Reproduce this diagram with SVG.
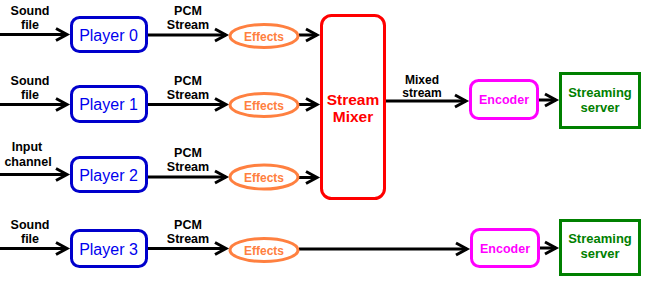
<svg xmlns="http://www.w3.org/2000/svg" width="647" height="285" viewBox="0 0 647 285">
<style>
.lbl{font-family:"Liberation Sans",Arial,sans-serif;font-weight:bold;font-size:12.5px;fill:#000;text-anchor:middle}
.player rect{fill:#fff;stroke:#0000CC;stroke-width:3}
.player text{font-family:"Liberation Sans",Arial,sans-serif;font-size:16px;fill:#0000EE;text-anchor:middle}
.fx ellipse{fill:#fff;stroke:#FF8040;stroke-width:3}
.fx text{font-family:"Liberation Sans",Arial,sans-serif;font-weight:bold;font-size:12px;fill:#FF8040;text-anchor:middle}
.mixer rect{fill:#fff;stroke:#FF0000;stroke-width:3}
.mixer text{font-family:"Liberation Sans",Arial,sans-serif;font-weight:bold;font-size:15.5px;fill:#FF0000;text-anchor:middle}
.enc rect{fill:#fff;stroke:#FF00FF;stroke-width:3}
.enc text{font-family:"Liberation Sans",Arial,sans-serif;font-weight:bold;font-size:12.5px;fill:#FF00FF;text-anchor:middle}
.srv rect{fill:#fff;stroke:#008000;stroke-width:3}
.srv text{font-family:"Liberation Sans",Arial,sans-serif;font-weight:bold;font-size:13px;fill:#008000;text-anchor:middle}
.conn line{stroke:#000;stroke-width:3;marker-end:url(#ah)}
</style>
<defs>
<marker id="ah" markerUnits="userSpaceOnUse" markerWidth="16" markerHeight="16" viewBox="0 0 16 16" refX="12" refY="8" orient="auto" overflow="visible">
<path d="M1,2 L12,8 L1,14" fill="none" stroke="#000" stroke-width="3"/>
</marker>
</defs>
<rect width="647" height="285" fill="#fff"/>
<g id="connectors" class="conn">
<line x1="0" y1="34.5" x2="67" y2="34.5"/>
<line x1="147" y1="35" x2="226" y2="35"/>
<line x1="299" y1="35" x2="317" y2="35"/>
<line x1="0" y1="104.5" x2="67" y2="104.5"/>
<line x1="147" y1="104.5" x2="226" y2="104.5"/>
<line x1="299" y1="104.5" x2="317" y2="104.5"/>
<line x1="0" y1="174.5" x2="67" y2="174.5"/>
<line x1="147" y1="177" x2="226" y2="177"/>
<line x1="299" y1="177.5" x2="317" y2="177.5"/>
<line x1="0" y1="248.5" x2="67" y2="248.5"/>
<line x1="147" y1="248.5" x2="226" y2="248.5"/>
<line x1="299" y1="249" x2="467" y2="249"/>
<line x1="386" y1="101" x2="466" y2="101"/>
<line x1="539" y1="100" x2="556" y2="100"/>
<line x1="540" y1="248" x2="556" y2="248"/>
</g>
<g id="labels">
<text class="lbl" x="30" y="15">Sound</text><text class="lbl" x="30" y="29">file</text>
<text class="lbl" x="188" y="15">PCM</text><text class="lbl" x="188" y="29">Stream</text>
<text class="lbl" x="30" y="85">Sound</text><text class="lbl" x="30" y="99">file</text>
<text class="lbl" x="188" y="85">PCM</text><text class="lbl" x="188" y="99">Stream</text>
<text class="lbl" x="27" y="151">Input</text><text class="lbl" x="28" y="166">channel</text>
<text class="lbl" x="188" y="157">PCM</text><text class="lbl" x="188" y="171">Stream</text>
<text class="lbl" x="30" y="229">Sound</text><text class="lbl" x="30" y="243">file</text>
<text class="lbl" x="188" y="229">PCM</text><text class="lbl" x="188" y="243">Stream</text>
<text class="lbl" x="422" y="84" style="font-size:12px">Mixed</text><text class="lbl" x="422" y="97" style="font-size:12px">stream</text>
</g>
<g id="player0" class="player"><rect x="71.5" y="17.5" width="75" height="34" rx="8"/><text x="108.5" y="40.5">Player 0</text></g>
<g id="player1" class="player"><rect x="71.5" y="86.5" width="75" height="35" rx="8"/><text x="108.5" y="110">Player 1</text></g>
<g id="player2" class="player"><rect x="71.5" y="157.5" width="75" height="34" rx="8"/><text x="108.5" y="180.5">Player 2</text></g>
<g id="player3" class="player"><rect x="71.5" y="230.5" width="75" height="36" rx="8"/><text x="108.5" y="254.5">Player 3</text></g>
<g id="effects0" class="fx"><ellipse cx="264" cy="36" rx="34" ry="11.5"/><text x="264" y="40.5">Effects</text></g>
<g id="effects1" class="fx"><ellipse cx="264" cy="105" rx="34" ry="11.5"/><text x="264" y="109.5">Effects</text></g>
<g id="effects2" class="fx"><ellipse cx="264" cy="177" rx="34" ry="12"/><text x="264" y="181.5">Effects</text></g>
<g id="effects3" class="fx"><ellipse cx="264" cy="250" rx="34" ry="11.5"/><text x="264" y="254.5">Effects</text></g>
<g id="mixer" class="mixer"><rect x="321.5" y="15.5" width="63" height="183" rx="10"/><text x="353" y="104.5">Stream</text><text x="353" y="121.5">Mixer</text></g>
<g id="encoder1" class="enc"><rect x="470.5" y="80.5" width="67" height="38" rx="8"/><text x="504" y="104">Encoder</text></g>
<g id="encoder2" class="enc"><rect x="471.5" y="229.5" width="67" height="37" rx="8"/><text x="505" y="252.5">Encoder</text></g>
<g id="server1" class="srv"><rect x="560.5" y="73.5" width="79" height="54"/><text x="600" y="96.5">Streaming</text><text x="600" y="111.5">server</text></g>
<g id="server2" class="srv"><rect x="560.5" y="220.5" width="79" height="54"/><text x="600" y="243">Streaming</text><text x="600" y="258">server</text></g>
</svg>
